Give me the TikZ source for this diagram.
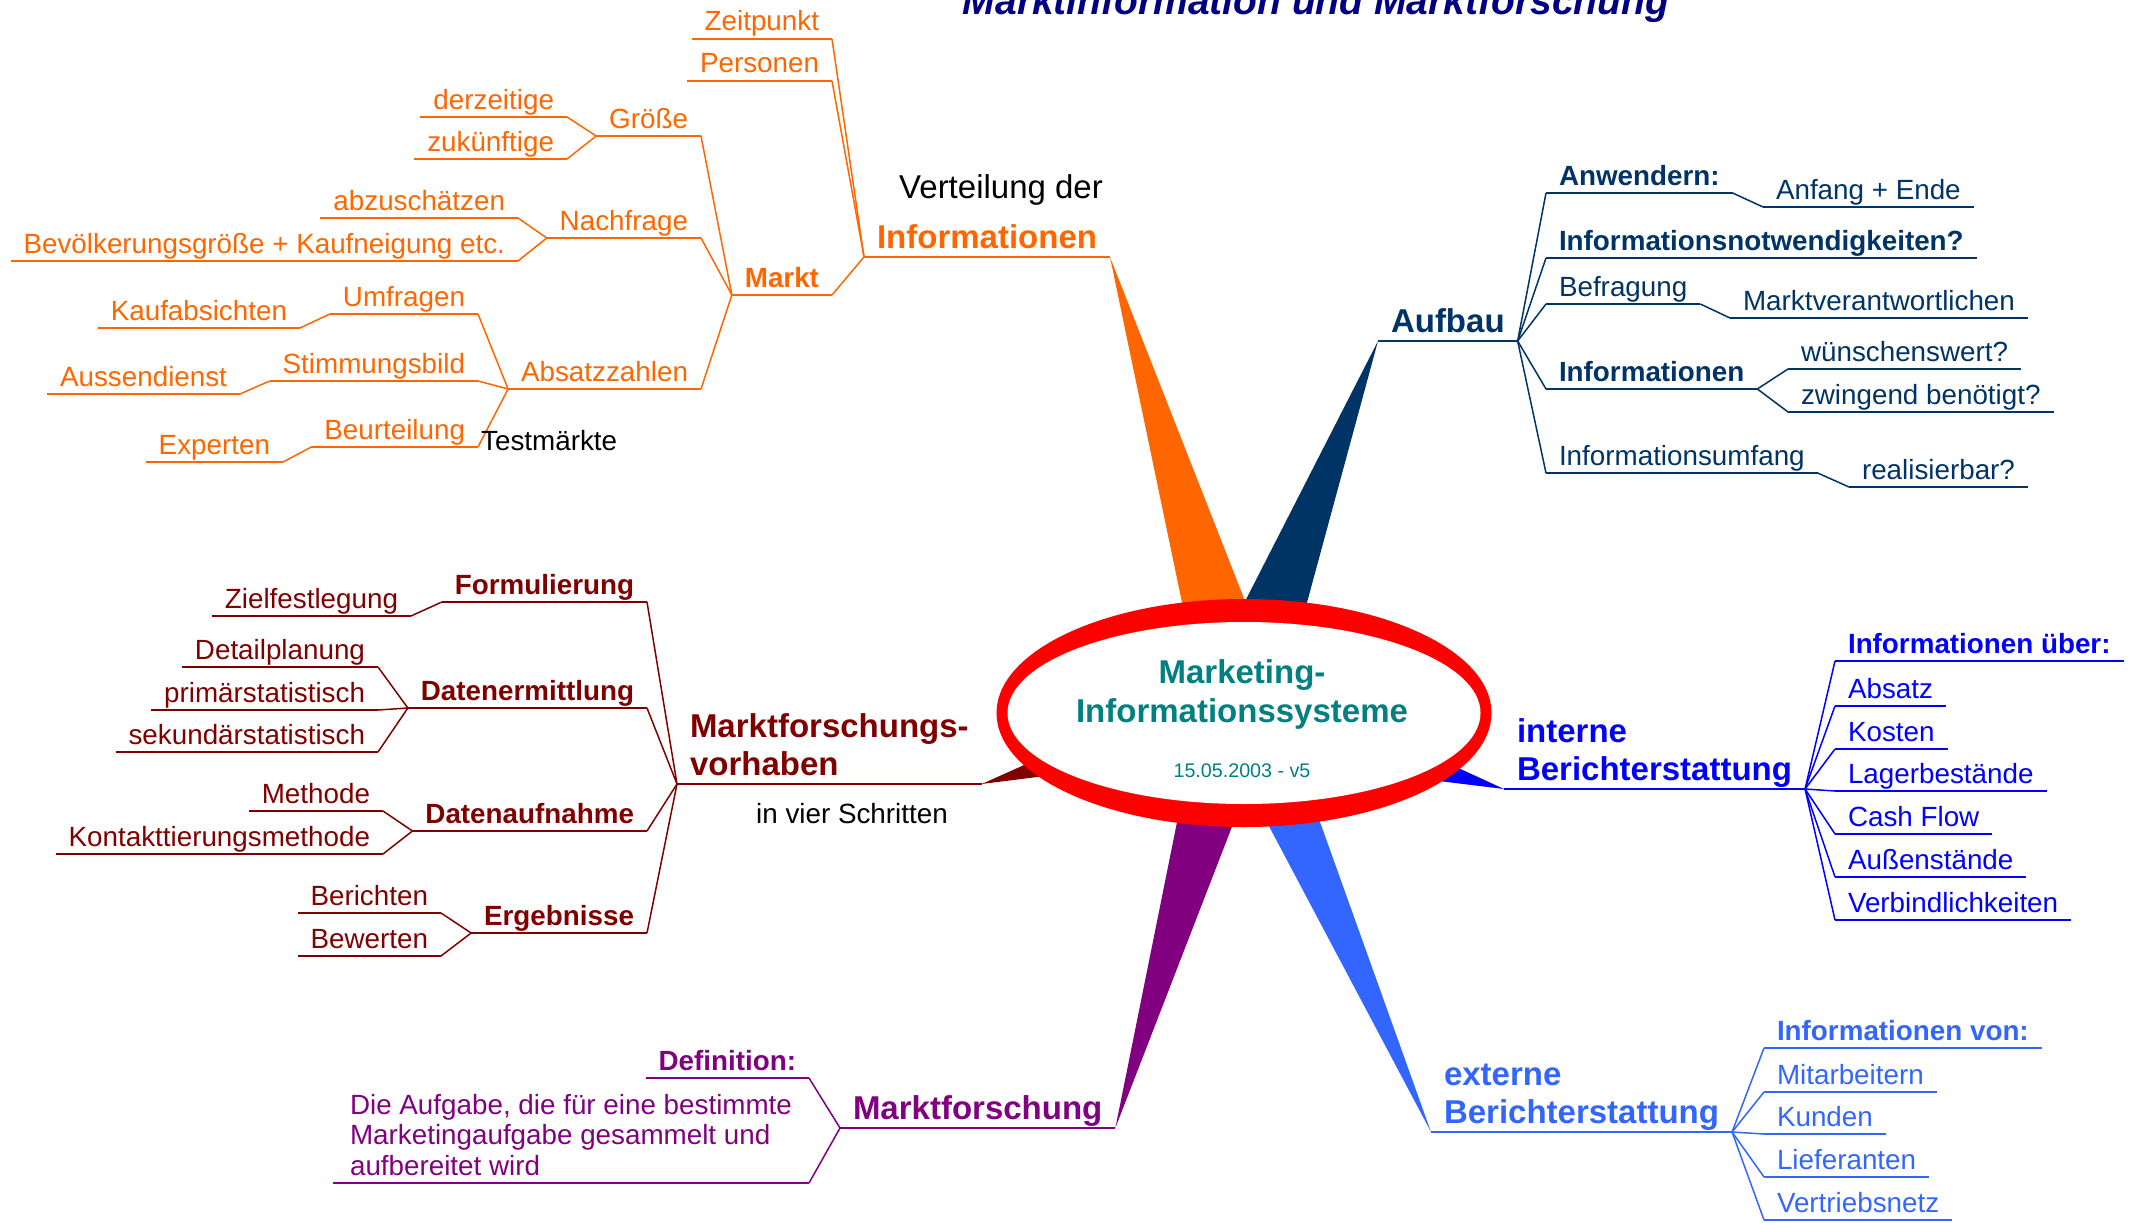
\documentclass[tikz,border=0pt]{standalone}
\usepackage{fontspec}
\setmainfont{Liberation Sans}
\usepackage{xcolor}
\definecolor{mOrange}{HTML}{FF6600}
\definecolor{mNavy}{HTML}{003366}
\definecolor{mDarkred}{HTML}{800000}
\definecolor{mBlue}{HTML}{0000FF}
\definecolor{mPurple}{HTML}{800080}
\definecolor{mLight}{HTML}{3366FF}
\definecolor{mTeal}{HTML}{008080}
\definecolor{mTitle}{HTML}{000080}
\definecolor{mRed}{HTML}{FF0000}
\newcommand{\fsub}{\fontsize{27.8}{30.5}\selectfont}
\newcommand{\fmain}{\fontsize{33}{37.5}\selectfont}
\newcommand{\stacked}[1]{\begin{tabular}[b]{@{}l@{}}#1\end{tabular}}
\usetikzlibrary{positioning}

\begin{document}
\begin{tikzpicture}[x=1pt, y=-1pt, line join=round,
    topic/.style={inner xsep=13pt, inner ysep=0pt, outer sep=0pt, text depth=8pt, font=\fsub},
    keytopic/.style={topic, font=\fsub\bfseries},
    maintopic/.style={topic, text depth=9pt, font=\fmain\bfseries},
    notetext/.style={inner sep=0pt, text=black, anchor=base west, font=\fsub},
    coretext/.style={inner sep=0pt, anchor=base, text=mTeal, font=\fmain\bfseries},
    link/.style={line width=1.5pt},
    ul/.style={line width=1.6pt},
    ulmain/.style={line width=2pt}]
\useasboundingbox (0,0) rectangle (2134,1223);

% title, cut at the top edge
\node (title) [anchor=base, inner sep=0pt, text=mTitle,
    font=\fontsize{39}{44}\selectfont\bfseries\itshape] at (1316,15) {Marktinformation und Marktforschung};

% Informationen
\begin{scope}[color=mOrange]
    \node (info) [maintopic, anchor=south east] at (1110,257) {Informationen};
    \node (vert) [notetext, font=\fmain] at (899,198) {Verteilung der};
    \node (zeit) [topic, anchor=south east] at (832,39) {Zeitpunkt};
    \node (pers) [topic, anchor=south east] at (832,81) {Personen};
    \node (markt) [keytopic, anchor=south east] at (832,295) {Markt};
    \node (groesse) [topic, anchor=south east] at (701,136) {Größe};
    \node (derz) [topic, anchor=south east] at (567,117) {derzeitige};
    \node (zuk) [topic, anchor=south east] at (567,159) {zukünftige};
    \node (nachf) [topic, anchor=south east] at (701,238) {Nachfrage};
    \node (abz) [topic, anchor=south east] at (518,218) {abzuschätzen};
    \node (bev) [topic, anchor=south east] at (518,261) {Bevölkerungsgröße + Kaufneigung etc.};
    \node (abs) [topic, anchor=south east] at (701,389) {Absatzzahlen};
    \node (umfr) [topic, anchor=south east] at (478,314) {Umfragen};
    \node (kauf) [topic, anchor=south east] at (300,328) {Kaufabsichten};
    \node (stimm) [topic, anchor=south east] at (478,381) {Stimmungsbild};
    \node (aussen) [topic, anchor=south east] at (240,394) {Aussendienst};
    \node (beurt) [topic, anchor=south east] at (478,447) {Beurteilung};
    \node (exp) [topic, anchor=south east] at (283,462) {Experten};
    \draw[ulmain] (info.south west) -- (info.south east);
    \foreach \n in {zeit,pers,markt,groesse,derz,zuk,nachf,abz,bev,abs,umfr,kauf,stimm,aussen,beurt,exp}
        \draw[ul] (\n.south west) -- (\n.south east);
    \foreach \a/\b in {info/zeit,info/pers,info/markt,markt/groesse,markt/nachf,markt/abs,
        groesse/derz,groesse/zuk,nachf/abz,nachf/bev,abs/umfr,abs/stimm,abs/beurt,
        umfr/kauf,stimm/aussen,beurt/exp}
        \draw[link] (\a.south west) -- (\b.south east);
    \node (test) [notetext] at (481,450) {Testmärkte};
\end{scope}

% Aufbau
\begin{scope}[color=mNavy]
    \node (aufbau) [maintopic, anchor=south west] at (1378,341) {Aufbau};
    \node (anw) [keytopic, anchor=south west] at (1546,193) {Anwendern:};
    \node (anf) [topic, anchor=south west] at (1763,207) {Anfang + Ende};
    \node (notw) [keytopic, anchor=south west] at (1546,258) {Informationsnotwendigkeiten?};
    \node (befr) [topic, anchor=south west] at (1546,304) {Befragung};
    \node (mverant) [topic, anchor=south west] at (1730,318) {Marktverantwortlichen};
    \node (inf2) [keytopic, anchor=south west] at (1546,389) {Informationen};
    \node (wuensch) [topic, anchor=south west] at (1788,369) {wünschenswert?};
    \node (zwing) [topic, anchor=south west] at (1788,412) {zwingend benötigt?};
    \node (umf) [topic, anchor=south west] at (1546,473) {Informationsumfang};
    \node (real) [topic, anchor=south west] at (1849,487) {realisierbar?};
    \draw[ulmain] (aufbau.south west) -- (aufbau.south east);
    \foreach \n in {anw,anf,notw,befr,mverant,inf2,wuensch,zwing,umf,real}
        \draw[ul] (\n.south west) -- (\n.south east);
    \foreach \a/\b in {aufbau/anw,aufbau/notw,aufbau/befr,aufbau/inf2,aufbau/umf,
        anw/anf,befr/mverant,inf2/wuensch,inf2/zwing,umf/real}
        \draw[link] (\a.south east) -- (\b.south west);
\end{scope}

% Marktforschungsvorhaben
\begin{scope}[color=mDarkred]
    \node (mfv) [maintopic, anchor=south west] at (677,784) {\stacked{Marktforschungs-\\vorhaben}};
    \node (schritte) [notetext] at (756,823) {in vier Schritten};
    \node (form) [keytopic, anchor=south east] at (647,602) {Formulierung};
    \node (ziel) [topic, anchor=south east] at (411,616) {Zielfestlegung};
    \node (datenerm) [keytopic, anchor=south east] at (647,708) {Datenermittlung};
    \node (detail) [topic, anchor=south east] at (378,667) {Detailplanung};
    \node (prim) [topic, anchor=south east] at (378,710) {primärstatistisch};
    \node (sek) [topic, anchor=south east] at (378,752) {sekundärstatistisch};
    \node (datenauf) [keytopic, anchor=south east] at (647,831) {Datenaufnahme};
    \node (meth) [topic, anchor=south east] at (383,811) {Methode};
    \node (kontakt) [topic, anchor=south east] at (383,854) {Kontakttierungsmethode};
    \node (erg) [keytopic, anchor=south east] at (647,933) {Ergebnisse};
    \node (ber) [topic, anchor=south east] at (441,913) {Berichten};
    \node (bew) [topic, anchor=south east] at (441,956) {Bewerten};
    \draw[ulmain] (mfv.south west) -- (mfv.south east);
    \foreach \n in {form,ziel,datenerm,detail,prim,sek,datenauf,meth,kontakt,erg,ber,bew}
        \draw[ul] (\n.south west) -- (\n.south east);
    \foreach \a/\b in {mfv/form,mfv/datenerm,mfv/datenauf,mfv/erg,form/ziel,
        datenerm/detail,datenerm/prim,datenerm/sek,datenauf/meth,datenauf/kontakt,
        erg/ber,erg/bew}
        \draw[link] (\a.south west) -- (\b.south east);
\end{scope}

% interne Berichterstattung
\begin{scope}[color=mBlue]
    \node (intern) [maintopic, anchor=south west] at (1504,789) {\stacked{interne\\Berichterstattung}};
    \node (iueber) [keytopic, anchor=south west] at (1835,661) {Informationen über:};
    \foreach \t/\y [count=\i] in {Absatz/706,Kosten/749,Lagerbestände/791,Cash Flow/834,
        Außenstände/877,Verbindlichkeiten/920}
        \node (ib\i) [topic, anchor=south west] at (1835,\y) {\t};
    \draw[ulmain] (intern.south west) -- (intern.south east);
    \foreach \n in {iueber,ib1,ib2,ib3,ib4,ib5,ib6} {
        \draw[ul] (\n.south west) -- (\n.south east);
        \draw[link] (intern.south east) -- (\n.south west);
    }
\end{scope}

% Marktforschung
\begin{scope}[color=mPurple]
    \node (mf) [maintopic, anchor=south west] at (840,1128) {Marktforschung};
    \node (defi) [keytopic, anchor=south east] at (809,1078) {Definition:};
    \node (aufg) [topic, inner xsep=17pt, anchor=south east] at (809,1183)
        {\stacked{Die Aufgabe, die für eine bestimmte\\Marketingaufgabe gesammelt und\\aufbereitet wird}};
    \draw[ulmain] (mf.south west) -- (mf.south east);
    \foreach \n in {defi,aufg} {
        \draw[ul] (\n.south west) -- (\n.south east);
        \draw[link] (mf.south west) -- (\n.south east);
    }
\end{scope}

% externe Berichterstattung
\begin{scope}[color=mLight]
    \node (extern) [maintopic, anchor=south west] at (1431,1132) {\stacked{externe\\Berichterstattung}};
    \node (ivon) [keytopic, anchor=south west] at (1764,1048) {Informationen von:};
    \foreach \t/\y [count=\i] in {Mitarbeitern/1092,Kunden/1134,Lieferanten/1177,Vertriebsnetz/1220}
        \node (eb\i) [topic, anchor=south west] at (1764,\y) {\t};
    \draw[ulmain] (extern.south west) -- (extern.south east);
    \foreach \n in {ivon,eb1,eb2,eb3,eb4} {
        \draw[ul] (\n.south west) -- (\n.south east);
        \draw[link] (extern.south east) -- (\n.south west);
    }
\end{scope}

% wedges from the centre to the main topics
\fill[mOrange] (info.south east) -- (1205,713) -- (1289,713) -- cycle;
\fill[mNavy] (aufbau.south west) -- (1188,713) -- (1277,713) -- cycle;
\fill[mDarkred] (mfv.south east) -- (1243,667) -- (1243,751) -- cycle;
\fill[mBlue] (intern.south west) -- (1243,669) -- (1243,757) -- cycle;
\fill[mPurple] (mf.south east) -- (1199,713) -- (1276,713) -- cycle;
\fill[mLight] (extern.south west) -- (1209,713) -- (1281,713) -- cycle;

% centre
\fill[mRed] (1244,713) ellipse [x radius=247.5pt, y radius=114pt];
\fill[white] (1244,713) ellipse [x radius=236.5pt, y radius=91pt];
\node (mk) [coretext] at (1242,683) {Marketing-};
\node (mis) [coretext] at (1242,722) {Informationssysteme};
\node (datum) [coretext, font=\fontsize{19.7}{22}\selectfont] at (1242,777) {15.05.2003 - v5};
\end{tikzpicture}
\end{document}
